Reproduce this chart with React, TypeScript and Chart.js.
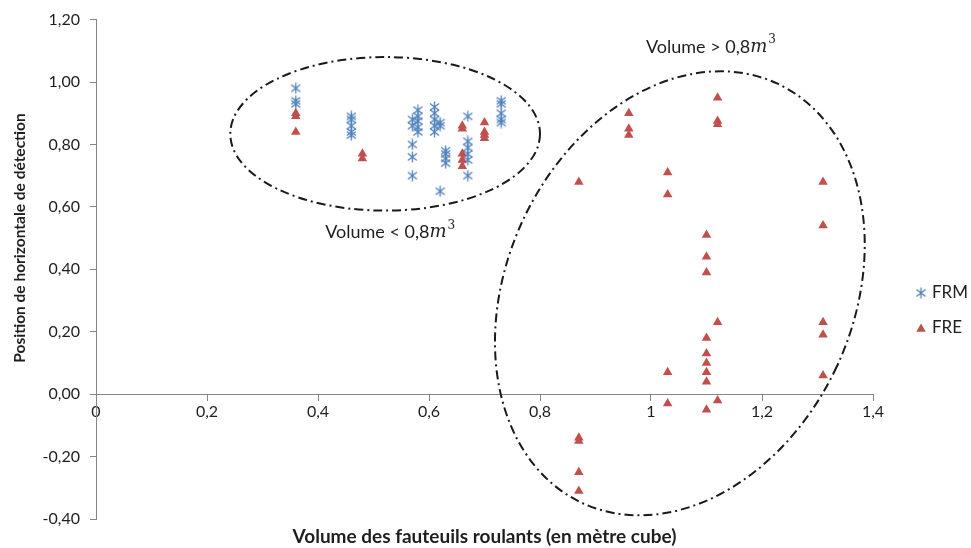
import React, { useEffect, useRef } from 'react';
import { Chart, registerables } from 'chart.js';

Chart.register(...registerables);

// ---- Data ----
const seriesNames = ['FRM', 'FRE'];

const frmX = [
  0.36, 0.36, 0.36,
  0.46, 0.46, 0.46, 0.46, 0.46,
  0.57, 0.57, 0.57, 0.57, 0.57,
  0.58, 0.58, 0.58, 0.58, 0.58,
  0.61, 0.61, 0.61, 0.61, 0.61,
  0.62, 0.62, 0.62,
  0.63, 0.63, 0.63, 0.63,
  0.67, 0.67, 0.67, 0.67, 0.67, 0.67,
  0.73, 0.73, 0.73, 0.73, 0.73,
];
const frmY = [
  0.98, 0.94, 0.93,
  0.89, 0.88, 0.86, 0.84, 0.83,
  0.88, 0.86, 0.80, 0.76, 0.70,
  0.91, 0.89, 0.875, 0.855, 0.84,
  0.92, 0.90, 0.88, 0.86, 0.84,
  0.87, 0.86, 0.65,
  0.78, 0.77, 0.755, 0.74,
  0.89, 0.81, 0.79, 0.77, 0.75, 0.70,
  0.94, 0.93, 0.90, 0.88, 0.87,
];

const freX = [
  0.36, 0.36, 0.36,
  0.48, 0.48,
  0.66, 0.66, 0.66, 0.66, 0.66,
  0.70, 0.70, 0.70, 0.70,
  0.87, 0.87, 0.87, 0.87, 0.87,
  0.96, 0.96, 0.96,
  1.03, 1.03, 1.03, 1.03,
  1.10, 1.10, 1.10, 1.10, 1.10, 1.10, 1.10, 1.10, 1.10,
  1.12, 1.12, 1.12, 1.12, 1.12,
  1.31, 1.31, 1.31, 1.31, 1.31,
];
const freY = [
  0.90, 0.89, 0.84,
  0.77, 0.755,
  0.86, 0.85, 0.77, 0.75, 0.73,
  0.87, 0.84, 0.83, 0.82,
  0.68, -0.14, -0.15, -0.25, -0.31,
  0.90, 0.85, 0.83,
  0.71, 0.64, 0.07, -0.03,
  0.51, 0.44, 0.39, 0.18, 0.13, 0.10, 0.07, 0.04, -0.05,
  0.95, 0.875, 0.865, 0.23, -0.02,
  0.68, 0.54, 0.23, 0.19, 0.06,
];

const xTitle = 'Volume des fauteuils roulants (en mètre cube)';
const yTitle = 'Position de horizontale de détection';
const noteLow = ['Volume < 0,8', 'm', '3'];
const noteHigh = ['Volume > 0,8', 'm', '3'];

// ---- Styling / annotation geometry (in data units) ----
const FONT = 'Lato, "Open Sans", sans-serif';
const BLUE = '#4F81BD';
const RED = '#C0504D';
const AXIS = '#868686';
const TEXT = '#1e1e1e';

const ellipses = [
  { cx: 0.521, cy: 0.834, rx: 0.279, ry: 0.246, rot: 0 },
  { cx: 1.052, cy: 0.323, rx: 0.312, ry: 0.741, rot: 25 },
];
const notes = [
  { parts: noteLow, x: 0.53, y: 0.518 },
  { parts: noteHigh, x: 1.108, y: 1.112 },
];

function makeAsterisk(color: string) {
  const c = document.createElement('canvas');
  c.width = 11;
  c.height = 12;
  const g = c.getContext('2d')!;
  g.strokeStyle = color;
  g.lineWidth = 1.3;
  g.beginPath();
  g.moveTo(5.5, 0.5);
  g.lineTo(5.5, 11.5);
  g.moveTo(1, 2.5);
  g.lineTo(10, 9.5);
  g.moveTo(10, 2.5);
  g.lineTo(1, 9.5);
  g.stroke();
  return c;
}

function drawTriangle(ctx: CanvasRenderingContext2D, x: number, y: number, r: number, color: string) {
  ctx.save();
  ctx.beginPath();
  for (let i = 0; i < 3; i++) {
    const a = (i * 2 * Math.PI) / 3;
    const px = x + Math.sin(a) * r;
    const py = y - Math.cos(a) * r;
    if (i === 0) ctx.moveTo(px, py);
    else ctx.lineTo(px, py);
  }
  ctx.closePath();
  ctx.fillStyle = color;
  ctx.fill();
  ctx.restore();
}

export default function App() {
  const ref = useRef<HTMLCanvasElement>(null);

  useEffect(() => {
    const canvas = ref.current!;
    const star = makeAsterisk(BLUE);

    const annot = {
      id: 'annot',
      beforeDatasetsDraw(chart: any) {
        const { ctx } = chart;
        const x = chart.scales.x;
        const y = chart.scales.y;
        const ux = x.getPixelForValue(1) - x.getPixelForValue(0);
        const uy = y.getPixelForValue(0) - y.getPixelForValue(1);
        ctx.save();
        ctx.strokeStyle = '#1a1a1a';
        ctx.lineWidth = 2;
        ctx.setLineDash([9, 4, 2, 4]);
        for (const e of ellipses) {
          ctx.beginPath();
          ctx.ellipse(
            x.getPixelForValue(e.cx),
            y.getPixelForValue(e.cy),
            e.rx * ux,
            e.ry * uy,
            (e.rot * Math.PI) / 180,
            0,
            Math.PI * 2
          );
          ctx.stroke();
        }
        ctx.restore();
      },
      afterDraw(chart: any) {
        const { ctx, chartArea } = chart;
        const x = chart.scales.x;
        const y = chart.scales.y;
        ctx.save();
        ctx.fillStyle = TEXT;
        ctx.textBaseline = 'middle';

        // notes
        for (const n of notes) {
          const f1 = `18px ${FONT}`;
          const f2 = `italic 18px "DejaVu Serif", "Liberation Serif", serif`;
          const f3 = `12px "DejaVu Serif", "Liberation Serif", serif`;
          ctx.font = f1;
          const w1 = ctx.measureText(n.parts[0]).width;
          ctx.font = f2;
          const w2 = ctx.measureText(n.parts[1]).width;
          ctx.font = f3;
          const w3 = ctx.measureText(n.parts[2]).width;
          const total = w1 + w2 + w3 + 1;
          let px = x.getPixelForValue(n.x) - total / 2;
          const py = y.getPixelForValue(n.y);
          ctx.textAlign = 'left';
          ctx.font = f1;
          ctx.fillText(n.parts[0], px, py);
          px += w1;
          ctx.font = f2;
          ctx.fillText(n.parts[1], px, py);
          px += w2 + 1;
          ctx.font = f3;
          ctx.fillText(n.parts[2], px, py - 7);
        }

        // axis titles
        ctx.textAlign = 'center';
        ctx.font = `bold 19px ${FONT}`;
        ctx.fillText(xTitle, (chartArea.left + chartArea.right) / 2, 537);
        ctx.save();
        ctx.translate(20, 238);
        ctx.rotate(-Math.PI / 2);
        ctx.font = `bold 15.5px ${FONT}`;
        ctx.fillText(yTitle, 0, 0);
        ctx.restore();

        // legend
        ctx.textAlign = 'left';
        ctx.font = `17px ${FONT}`;
        ctx.fillStyle = TEXT;
        ctx.drawImage(star, 921 - star.width / 2, 293 - star.height / 2);
        ctx.fillText(seriesNames[0], 932, 293);
        drawTriangle(ctx, 921, 329, 5.5, RED);
        ctx.fillStyle = TEXT;
        ctx.fillText(seriesNames[1], 932, 328);
        ctx.restore();
      },
    };

    const tickFont = { family: FONT, size: 16 };

    const chart = new Chart(canvas, {
      type: 'scatter',
      data: {
        datasets: [
          {
            label: seriesNames[1],
            data: freX.map((v, i) => ({ x: v, y: freY[i] })),
            pointStyle: 'triangle',
            pointRadius: 5.5,
            backgroundColor: RED,
            borderColor: RED,
            borderWidth: 0,
          },
          {
            label: seriesNames[0],
            data: frmX.map((v, i) => ({ x: v, y: frmY[i] })),
            pointStyle: star as any,
            pointRadius: 5,
            backgroundColor: BLUE,
            borderColor: BLUE,
          },
        ],
      },
      options: {
        animation: false,
        responsive: false,
        layout: { padding: { left: 0, top: 18, right: 98, bottom: 29 } },
        plugins: { legend: { display: false }, tooltip: { enabled: false } },
        scales: {
          x: {
            type: 'linear',
            position: { y: 0 } as any,
            min: 0,
            max: 1.4,
            ticks: {
              stepSize: 0.2,
              color: TEXT,
              font: tickFont,
              padding: 2,
              maxRotation: 0,
              callback: (v: any) => {
                const n = Number(Number(v).toFixed(1));
                return String(n).replace('.', ',');
              },
            },
            grid: { drawOnChartArea: false, tickLength: 6, color: AXIS },
            border: { color: AXIS },
          },
          y: {
            type: 'linear',
            min: -0.4,
            max: 1.2,
            ticks: {
              stepSize: 0.2,
              color: TEXT,
              font: tickFont,
              padding: 10,
              callback: (v: any) => Number(v).toFixed(2).replace('.', ','),
            },
            grid: { drawOnChartArea: false, tickLength: 6, color: AXIS },
            border: { color: AXIS },
            afterFit: (s: any) => {
              s.width = 96;
            },
          },
        },
      },
      plugins: [annot],
    });
    return () => chart.destroy();
  }, []);

  return (
    <div style={{ position: 'fixed', left: 0, top: 0, width: 971, height: 548, background: '#fff' }}>
      <canvas ref={ref} width={971} height={548} />
    </div>
  );
}
